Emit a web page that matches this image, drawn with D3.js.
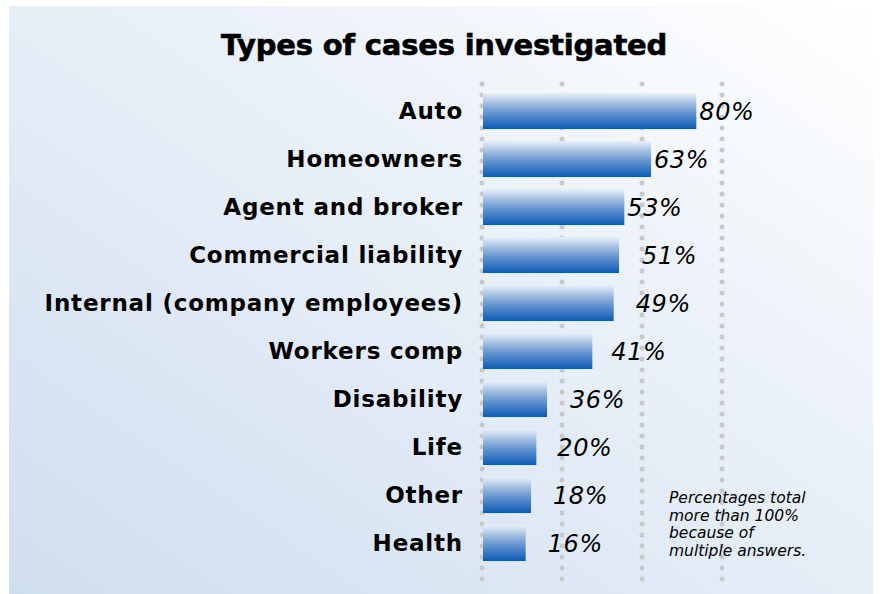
<!DOCTYPE html>
<html>
<head>
<meta charset="utf-8">
<script src="https://cdn.jsdelivr.net/npm/d3@7"></script>
<style>
  body { margin: 0; background: #ffffff; }
</style>
</head>
<body>
<script>
// chart data
const categories = ["Auto", "Homeowners", "Agent and broker", "Commercial liability",
  "Internal (company employees)", "Workers comp", "Disability", "Life", "Other", "Health"];
const barValues = [80, 63, 53, 51, 49, 41, 24, 20, 18, 16];   // bar lengths as drawn (Disability bar is short in the original)
const valueLabels = ["80%", "63%", "53%", "51%", "49%", "41%", "36%", "20%", "18%", "16%"];
const gridTicks = [0, 30, 60, 90];
const title = "Types of cases investigated";
const footnote = ["Percentages total", "more than 100%", "because of", "multiple answers."];

// label nudges (px after bar end), the original places them unevenly
const labelGap = [4, 4, 4, 24, 23, 20, 24, 22, 23, 23];

const width = 880, height = 594;

const svg = d3.select("body")
  .append("svg")
    .attr("width", width)
    .attr("height", height);

const defs = svg.append("defs");

// panel background gradient
const bg = defs.append("linearGradient")
    .attr("id", "bg")
    .attr("x1", 0).attr("y1", 1)
    .attr("x2", 1).attr("y2", 0);
bg.append("stop").attr("offset", "0%").attr("stop-color", "#cfdeef");
bg.append("stop").attr("offset", "55%").attr("stop-color", "#e8eff8");
bg.append("stop").attr("offset", "100%").attr("stop-color", "#ffffff");

// bar gradient, light top to dark blue bottom
const barGrad = defs.append("linearGradient")
    .attr("id", "bar")
    .attr("x1", 0).attr("y1", 0)
    .attr("x2", 0).attr("y2", 1);
barGrad.append("stop").attr("offset", "0%").attr("stop-color", "#e8f0f9");
barGrad.append("stop").attr("offset", "45%").attr("stop-color", "#7aa3d6");
barGrad.append("stop").attr("offset", "100%").attr("stop-color", "#0b5ab4");

svg.append("rect")
    .attr("x", 9)
    .attr("y", 6)
    .attr("width", 864)
    .attr("height", height - 6)
    .attr("fill", "url(#bg)");

// title
svg.append("text")
    .attr("x", 444)
    .attr("y", 55)
    .attr("text-anchor", "middle")
    .attr("font-family", "DejaVu Sans")
    .attr("font-weight", "bold")
    .attr("font-size", 29)
    .attr("letter-spacing", -0.2)
    .attr("stroke", "#000")
    .attr("stroke-width", 0.6)
    .attr("fill", "#000")
    .text(title);

// scales
const x = d3.scaleLinear()
    .domain([0, 90])
    .range([482, 722]);

const y = d3.scaleBand()
    .domain(categories)
    .range([87, 567])
    .paddingInner(0.25)
    .paddingOuter(0.125);

// dotted gridlines
svg.selectAll(".grid")
  .data(gridTicks)
  .enter()
  .append("line")
    .attr("class", "grid")
    .attr("x1", d => x(d))
    .attr("x2", d => x(d))
    .attr("y1", 84)
    .attr("y2", 588)
    .attr("stroke", "#c9c9c9")
    .attr("stroke-width", 5)
    .attr("stroke-linecap", "round")
    .attr("stroke-dasharray", "0 11");

// bars
svg.selectAll(".bar")
  .data(barValues)
  .enter()
  .append("rect")
    .attr("class", "bar")
    .attr("x", x(0) + 1)
    .attr("y", (d, i) => y(categories[i]))
    .attr("width", d => x(d) - x(0))
    .attr("height", y.bandwidth())
    .attr("fill", "url(#bar)");

// category labels
svg.selectAll(".cat")
  .data(categories)
  .enter()
  .append("text")
    .attr("class", "cat")
    .attr("x", 463)
    .attr("y", d => y(d) + y.bandwidth() / 2)
    .attr("dy", "0.36em")
    .attr("text-anchor", "end")
    .attr("font-family", "DejaVu Sans")
    .attr("font-weight", "bold")
    .attr("font-size", 23)
    .attr("letter-spacing", 0.8)
    .attr("fill", "#000")
    .text(d => d);

// value labels
svg.selectAll(".val")
  .data(valueLabels)
  .enter()
  .append("text")
    .attr("class", "val")
    .attr("x", (d, i) => x(barValues[i]) + labelGap[i])
    .attr("y", (d, i) => y(categories[i]) + y.bandwidth() / 2)
    .attr("dy", "0.36em")
    .attr("font-family", "DejaVu Sans")
    .attr("font-style", "italic")
    .attr("font-size", 24)
    .attr("letter-spacing", 0.6)
    .attr("fill", "#000")
    .text(d => d);

// footnote
svg.append("text")
    .attr("x", 669)
    .attr("y", 503)
    .attr("font-family", "DejaVu Sans")
    .attr("font-style", "italic")
    .attr("font-size", 15.5)
    .attr("fill", "#000")
  .selectAll("tspan")
  .data(footnote)
  .enter()
  .append("tspan")
    .attr("x", 669)
    .attr("dy", (d, i) => i === 0 ? 0 : 17.5)
    .text(d => d);
</script>
</body>
</html>
